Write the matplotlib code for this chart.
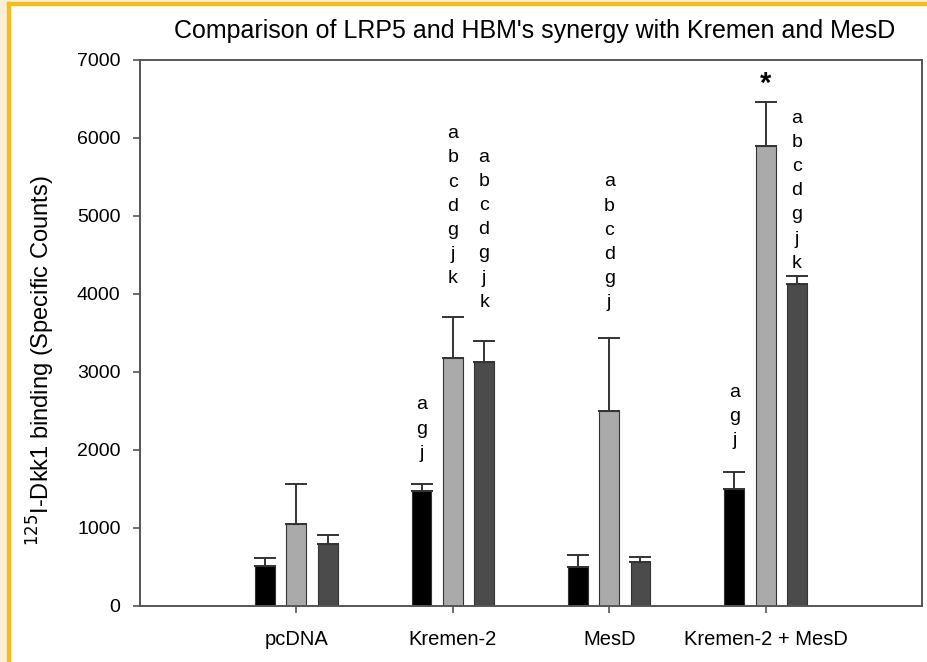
import matplotlib
matplotlib.use("Agg")
import matplotlib.pyplot as plt
from matplotlib.patches import Rectangle
import numpy as np

plt.rcParams['font.family'] = ['Liberation Sans', 'DejaVu Sans']

categories = ["pcDNA", "Kremen-2", "MesD", "Kremen-2 + MesD"]
series_a = [513, 1479, 505, 1505]      # black
series_b = [1051, 3175, 2500, 5900]    # light grey
series_c = [792, 3132, 560, 4128]      # dark grey
err_a = [105, 80, 150, 215]
err_b = [510, 535, 930, 565]
err_c = [112, 268, 65, 100]
yticks = [0, 1000, 2000, 3000, 4000, 5000, 6000, 7000]

# significance letters: (group index, series index, letters, y of first letter)
annotations = [
    (1, 0, "agj", 2603),
    (1, 1, "abcdgjk", 6080),
    (1, 2, "abcdgjk", 5782),
    (2, 1, "abcdgj", 5462),
    (3, 0, "agj", 2769),
    (3, 1, "*", 6730),
    (3, 2, "abcdgjk", 6282),
]

W, H = 927, 662
fig = plt.figure(figsize=(W / 100, H / 100), dpi=100)
fig.patch.set_facecolor("white")

cream = "#fcefd5"
yellow = "#f3be1c"
fig.patches.append(Rectangle((0, 0), 7 / W, 1, transform=fig.transFigure, color=cream, zorder=-10))
fig.patches.append(Rectangle((0, 1 - 2 / H), 1, 2 / H, transform=fig.transFigure, color=cream, zorder=-10))
fig.patches.append(Rectangle((7 / W, 1 - 5 / H), 1 - 7 / W, 3 / H, transform=fig.transFigure, color=yellow, zorder=-9))
fig.patches.append(Rectangle((7 / W, 0), 3 / W, 1 - 2 / H, transform=fig.transFigure, color=yellow, zorder=-9))

ax = fig.add_axes([140 / W, 56 / H, 782 / W, 546 / H])

x = np.arange(1, len(categories) + 1)
bw = 0.127
off = 0.2
colors = ["#000000", "#aaaaaa", "#4b4b4b"]
all_series = [series_a, series_b, series_c]
all_err = [err_a, err_b, err_c]
for i, (vals, errs, col) in enumerate(zip(all_series, all_err, colors)):
    xs = x + (i - 1) * off
    ax.bar(xs, vals, width=bw, color=col, edgecolor="#333333", linewidth=0.8, zorder=2)
    ax.errorbar(xs, vals, yerr=[np.zeros(len(vals)), errs], fmt="none",
                ecolor="#333333", elinewidth=1.4, capsize=8, capthick=1.4, zorder=1)

spacing_px = 24.2
for g, s, letters, ytop in annotations:
    xs = x[g] + (s - 1) * off
    for k, ch in enumerate(letters):
        if ch == "*":
            ax.annotate(ch, (xs, ytop), xytext=(0, 0), textcoords="offset pixels",
                        ha="center", va="center_baseline", fontsize=21, fontweight="bold")
        else:
            ax.annotate(ch, (xs, ytop), xytext=(0, -k * spacing_px), textcoords="offset pixels",
                        ha="center", va="center_baseline", fontsize=14)

ax.set_xlim(0, 5)
ax.set_ylim(0, 7000)
ax.set_yticks(yticks)
ax.set_yticklabels([str(t) for t in yticks], fontsize=14)
ax.set_xticks(x)
ax.set_xticklabels(categories, fontsize=14.5)
for sp in ax.spines.values():
    sp.set_color("#555555")
    sp.set_linewidth(1.4)
ax.tick_params(axis="both", direction="out", length=5, width=1.2, color="#555555")
ax.tick_params(axis="y", pad=9)
ax.tick_params(axis="x", pad=12)

ax.set_ylabel(r"$^{125}$I-Dkk1 binding (Specific Counts)", fontsize=17)
ax.yaxis.set_label_coords(-0.106, 0.45)
ax.set_title("Comparison of LRP5 and HBM's synergy with Kremen and MesD", fontsize=18, pad=16, x=0.505)

fig.savefig("out.png", dpi=100)
